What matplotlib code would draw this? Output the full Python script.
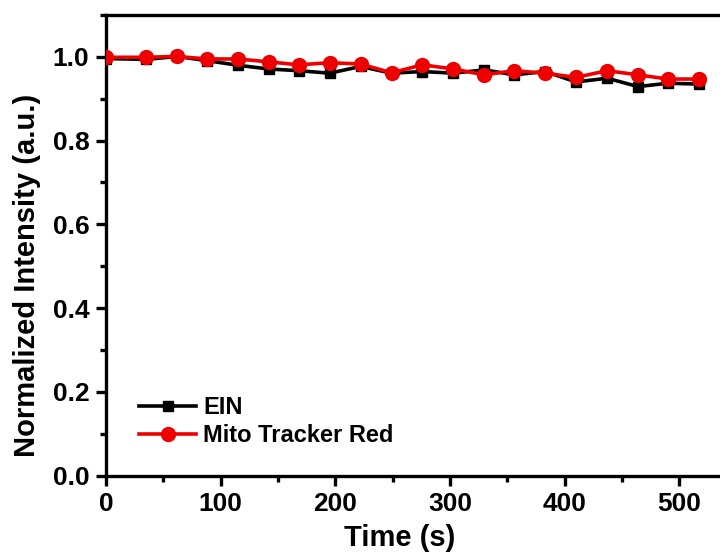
import numpy as np
import matplotlib.pyplot as plt
from matplotlib.ticker import MultipleLocator

plt.rcParams['font.family'] = ['Liberation Sans', 'DejaVu Sans']
plt.rcParams['font.weight'] = 'bold'

# photobleaching time course, normalized to the first frame
time_s = [0, 35, 62, 88, 115, 142, 168, 195, 222, 249, 276, 303, 330, 356, 383, 410, 437, 464, 490, 517]
ein = [0.996, 0.994, 1.001, 0.991, 0.980, 0.971, 0.967, 0.961, 0.977, 0.961,
       0.965, 0.961, 0.969, 0.957, 0.965, 0.940, 0.949, 0.929, 0.937, 0.935]
mito_red = [0.999, 0.999, 1.001, 0.995, 0.995, 0.988, 0.981, 0.986, 0.983, 0.962,
            0.981, 0.971, 0.957, 0.967, 0.961, 0.951, 0.967, 0.957, 0.947, 0.947]

fig = plt.figure(figsize=(7.2, 5.54), dpi=100)
ax = fig.add_axes([106 / 720, 78.5 / 554, 1 - 106 / 720, (475.5 - 15) / 554])

ax.plot(time_s, ein, color='black', lw=2.6, marker='s', ms=7.5, label='EIN', zorder=3)
ax.plot(time_s, mito_red, color='#ee0000', lw=2.6, marker='o', ms=10, label='Mito Tracker Red', zorder=4)

ax.set_xlim(0, 535.5)
ax.set_ylim(0, 1.1)
ax.xaxis.set_major_locator(MultipleLocator(100))
ax.xaxis.set_minor_locator(MultipleLocator(50))
ax.yaxis.set_major_locator(MultipleLocator(0.2))
ax.yaxis.set_minor_locator(MultipleLocator(0.1))
ax.yaxis.set_major_formatter(plt.FormatStrFormatter('%.1f'))

for side in ['left', 'bottom', 'top']:
    ax.spines[side].set_linewidth(2.4)
ax.spines['right'].set_visible(False)
ax.tick_params(which='major', direction='out', length=7, width=2.4, labelsize=19, pad=5)
ax.tick_params(which='minor', direction='out', length=4.5, width=2.4)
ax.tick_params(top=False, right=False)

ax.set_xlabel('Time (s)', fontsize=21, fontweight='bold')
ax.xaxis.set_label_coords(0.478, -0.106)
ax.set_ylabel('Normalized Intensity (a.u.)', fontsize=21, fontweight='bold')
ax.yaxis.set_label_coords(-0.106, 0.435)

ax.legend(loc='lower left', bbox_to_anchor=(0.008, 0.0), frameon=False, fontsize=17,
          handlelength=2.4, handletextpad=0.3, labelspacing=0.2, borderaxespad=0.8)

fig.savefig('out.png', dpi=100)
